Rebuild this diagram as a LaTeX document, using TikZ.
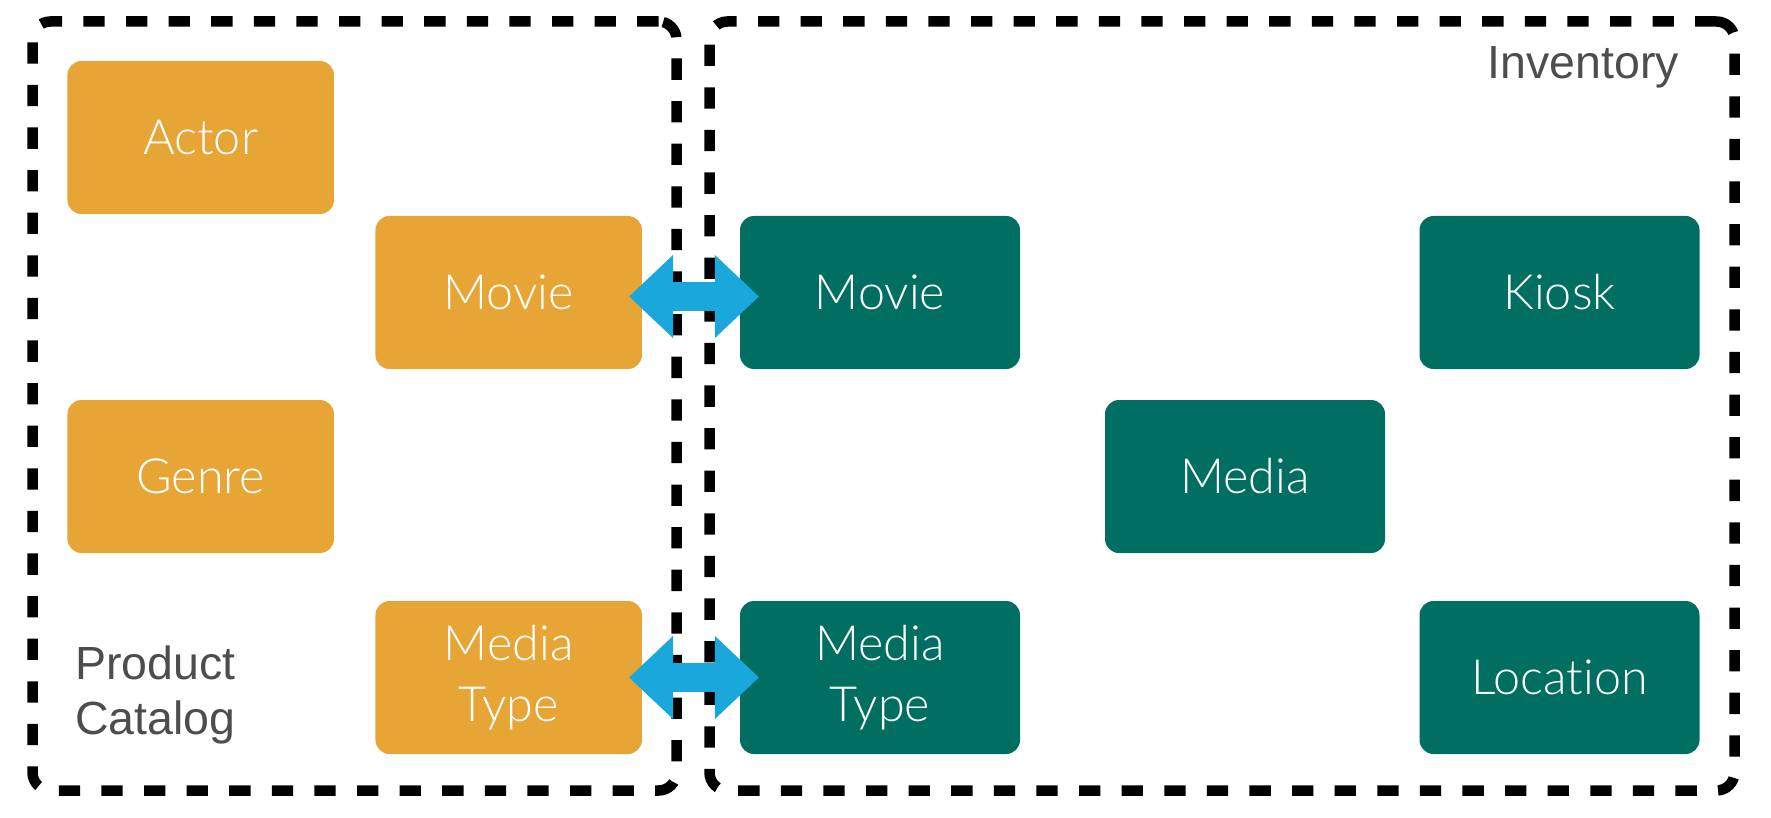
\documentclass[tikz,border=0pt]{standalone}
\usepackage{fontspec}
\setmainfont[RawFeature=-liga]{Lato Light}
\newfontfamily\grayfont{Liberation Sans}
\usetikzlibrary{arrows.meta}
\definecolor{orangebox}{RGB}{231,165,53}
\definecolor{greenbox}{RGB}{0,111,98}
\definecolor{bluearrow}{RGB}{26,168,220}
\definecolor{graytext}{RGB}{77,77,77}
\begin{document}
\begin{tikzpicture}[x=1pt,y=-1pt,
  entity/.style={rounded corners=14pt, minimum height=153pt, inner sep=0pt, text=white,
    font=\fontsize{48.5}{61}\selectfont, align=center},
  pcbox/.style={entity, fill=orangebox, minimum width=266.5pt},
  invbox/.style={entity, fill=greenbox, minimum width=280pt},
  ctx/.style={draw=black, line width=10.5pt, dash pattern=on 21.3pt off 21.3pt,
    rounded corners=18pt, inner sep=0pt},
  ctxlabel/.style={text=graytext, font=\grayfont\fontsize{46.5}{55}\selectfont, inner sep=0pt},
  share/.style={draw=bluearrow, line width=28.3pt,
    {Triangle[width=83.3pt,length=44pt,line width=0pt]}-{Triangle[width=83.3pt,length=44pt,line width=0pt]}}
]
\useasboundingbox (0,0) rectangle (1771,818);

% bounded contexts
\node[ctx, minimum width=644pt, minimum height=769pt] (catalog) at (354.5,406) {};
\node[ctx, minimum width=1025pt, minimum height=769pt] (inventory) at (1222,406) {};

% product catalog entities
\node[pcbox] (actor) at (200.7,137.5) {Actor};
\node[pcbox] (pmovie) at (508.7,292.5) {Movie};
\node[pcbox] (genre) at (200.7,476.5) {Genre};
\node[pcbox] (pmtype) at (508.7,677.5) {Media\\Type};

% inventory entities
\node[invbox] (imovie) at (880,292.5) {Movie};
\node[invbox] (media) at (1245,476.5) {Media};
\node[invbox] (kiosk) at (1559.5,292.5) {Kiosk};
\node[invbox] (location) at (1559.5,677.5) {Location};
\node[invbox] (imtype) at (880,677.5) {Media\\Type};

% context labels
\node[ctxlabel, anchor=base east] (invlabel) at (1679,79) {Inventory};
\node[ctxlabel, anchor=base west, align=left] (pclabel) at (75,734) {Product\\Catalog};

% shared kernel arrows
\draw[share] ([xshift=-13pt,yshift=-4pt]pmovie.east) -- ([xshift=19pt,yshift=-4pt]imovie.west);
\draw[share] ([xshift=-13pt]pmtype.east) -- ([xshift=19pt]imtype.west);
\end{tikzpicture}
\end{document}
